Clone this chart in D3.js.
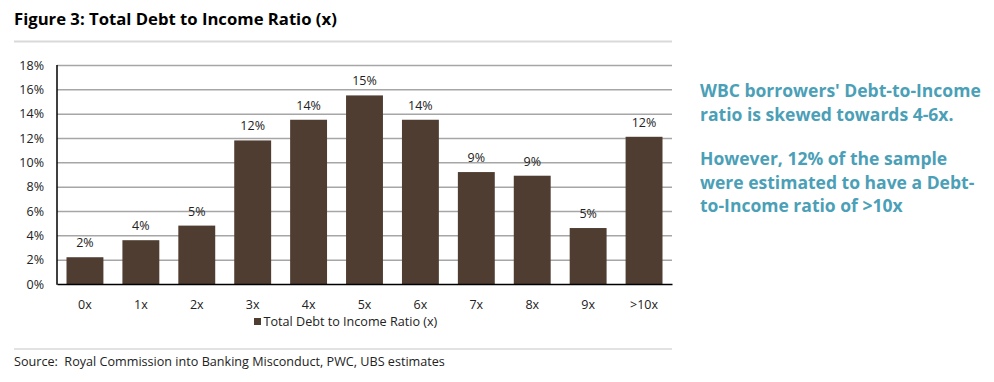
<!DOCTYPE html>
<html>
<head>
<meta charset="utf-8">
<script src="https://cdn.jsdelivr.net/npm/d3@7"></script>
<style>
  html, body { margin: 0; padding: 0; background: #fff; }
  svg { display: block; }
  text { font-family: "Open Sans", Lato, sans-serif; }
</style>
</head>
<body>
<svg id="chart" width="994" height="382"></svg>
<script>
const categories = ["0x", "1x", "2x", "3x", "4x", "5x", "6x", "7x", "8x", "9x", ">10x"];
const values = [2.2, 3.6, 4.8, 11.8, 13.5, 15.5, 13.5, 9.2, 8.9, 4.6, 12.1];
const valueLabels = ["2%", "4%", "5%", "12%", "14%", "15%", "14%", "9%", "9%", "5%", "12%"];
const yTicks = [0, 2, 4, 6, 8, 10, 12, 14, 16, 18];
const titleText = "Figure 3: Total Debt to Income Ratio (x)";
const legendLabel = "Total Debt to Income Ratio (x)";
const sourceText = "Source:  Royal Commission into Banking Misconduct, PWC, UBS estimates";
const sideText = [
  ["WBC borrowers' Debt-to-Income", "ratio is skewed towards 4-6x."],
  ["However, 12% of the sample", "were estimated to have a Debt-", "to-Income ratio of >10x"]
];

const barColor = "#4e3d30";
const teal = "#4b9fb7";
const textColor = "#222";
const svg = d3.select("#chart");

// shrink/grow a text's font size so its width matches the reference width
function fit(sel, target) {
  const node = sel.node();
  const w = node.getComputedTextLength();
  const fs = parseFloat(sel.attr("font-size"));
  const nf = fs * target / w;
  sel.attr("font-size", nf.toFixed(2));
  return nf;
}

const plot = { left: 57, right: 672, top: 65, bottom: 284 };
const x = d3.scaleBand().domain(categories).range([plot.left, plot.right]).paddingInner(0.34).paddingOuter(0.17);
const y = d3.scaleLinear().domain([0, 18]).range([plot.bottom, plot.top]);

// Title
const title = svg.append("text").attr("x", 14).attr("y", 25).attr("font-size", 15).attr("font-weight", "bold")
  .attr("fill", "#000").text(titleText);
fit(title, 323);
svg.append("line").attr("x1", 14).attr("x2", 672).attr("y1", 41.5).attr("y2", 41.5)
  .attr("stroke", "#d9d9d9").attr("stroke-width", 2);

// Gridlines
const grid = svg.append("g").attr("transform", `translate(${plot.left},0)`)
  .call(d3.axisRight(y).tickValues(yTicks.filter(d => d > 0)).tickSize(plot.right - plot.left).tickFormat(""));
grid.select(".domain").remove();
grid.selectAll("line").attr("stroke", "#a6a6a6").attr("stroke-width", 1.5);

// Y axis labels
const yAxis = svg.append("g").attr("transform", `translate(${plot.left},0)`)
  .call(d3.axisLeft(y).tickValues(yTicks).tickSize(0).tickPadding(13).tickFormat(d => d + "%"));
yAxis.select(".domain").remove();
yAxis.selectAll("text").attr("font-size", 12.5).attr("fill", textColor).style("font-family", "'Open Sans', sans-serif");

// Bars
svg.append("g").selectAll("rect").data(values).join("rect")
  .attr("x", (d, i) => x(categories[i]))
  .attr("width", x.bandwidth())
  .attr("y", d => y(d))
  .attr("height", d => y(0) - y(d))
  .attr("fill", barColor);

// Value labels
svg.append("g").selectAll("text").data(values).join("text")
  .attr("x", (d, i) => x(categories[i]) + x.bandwidth() / 2)
  .attr("y", d => y(d) - 10)
  .attr("text-anchor", "middle").attr("font-size", 12.5).attr("fill", textColor)
  .text((d, i) => valueLabels[i]);

// Axes lines
svg.append("line").attr("x1", plot.left).attr("x2", plot.left).attr("y1", plot.top).attr("y2", plot.bottom + 0.75)
  .attr("stroke", "#000").attr("stroke-width", 1.5);
const xAxis = svg.append("g").attr("transform", `translate(0,${plot.bottom})`)
  .call(d3.axisBottom(x).tickSize(0).tickPadding(16));
xAxis.select(".domain").attr("stroke", "#000").attr("stroke-width", 1.5);
xAxis.selectAll("text").attr("font-size", 12.5).attr("fill", textColor).style("font-family", "'Open Sans', sans-serif");

// Legend
svg.append("rect").attr("x", 254).attr("y", 318).attr("width", 7).attr("height", 7).attr("fill", barColor);
const leg = svg.append("text").attr("x", 263.5).attr("y", 326).attr("font-size", 12.5).attr("fill", textColor).text(legendLabel);
fit(leg, 174);

// Bottom separator + source
svg.append("line").attr("x1", 14).attr("x2", 672).attr("y1", 349).attr("y2", 349)
  .attr("stroke", "#d9d9d9").attr("stroke-width", 1.5);
const src = svg.append("text").attr("x", 14).attr("y", 366).attr("font-size", 12).attr("fill", textColor)
  .style("white-space", "pre").text(sourceText);
fit(src, 431);

// Side commentary
const sideBaselines = [[97, 120.5], [165, 188.5, 212]];
const sideNodes = [];
sideText.forEach((para, pi) => {
  para.forEach((line, li) => {
    sideNodes.push(svg.append("text").attr("x", 700).attr("y", sideBaselines[pi][li])
      .attr("font-size", 16).attr("font-weight", "bold").attr("fill", teal).text(line));
  });
});
const sideSize = fit(sideNodes[0], 281);
sideNodes.forEach(s => s.attr("font-size", sideSize.toFixed(2)));
</script>
</body>
</html>
